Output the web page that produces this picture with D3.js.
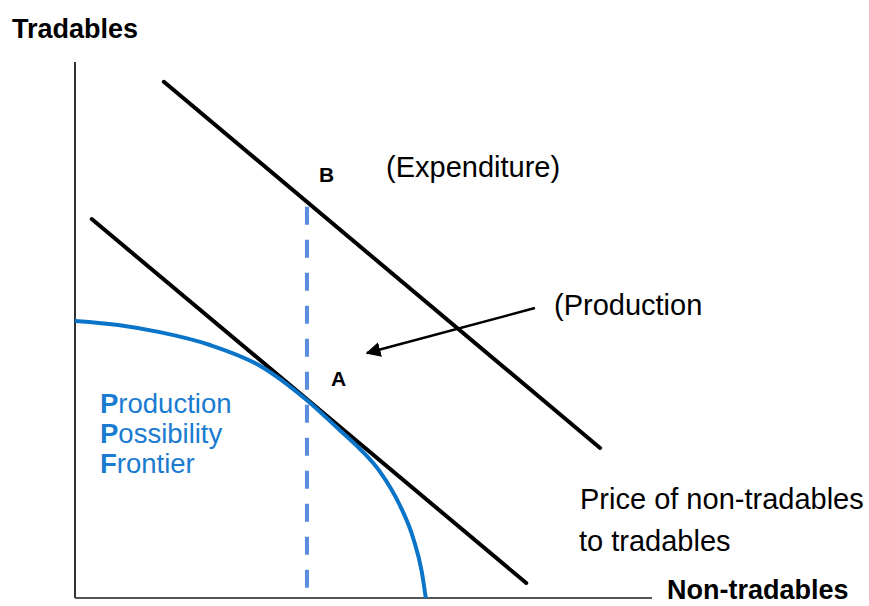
<!DOCTYPE html>
<html>
<head>
<meta charset="utf-8">
<script src="https://cdn.jsdelivr.net/npm/d3@7"></script>
<style>
  body { margin: 0; background: #fff; }
  text { font-family: "Liberation Sans", Arial, sans-serif; }
</style>
</head>
<body>
<div id="chart"></div>
<script>
// PPF points (units 0-100 on each axis)
var ppfX = [0, 7.8, 14.7, 23.4, 32.1, 40.2, 45.9, 49.4, 52.9, 56.3, 58.6, 60.1, 60.8];
var ppfY = [51.7, 50.9, 49.6, 47.2, 43.3, 36.9, 31.3, 27.8, 23.5, 17.3, 11.2, 4.9, 0];

// price lines: [x0, y0, x1, y1]
var expenditureLine = [15.4, 96.3, 91.0, 28.0];
var productionLine = [2.9, 70.7, 78.2, 2.8];
var dropX = 40.2, dropTop = 73.0;
var arrowFrom = [79.7, 54.1], arrowTo = [50.6, 45.7];

var width = 869,
  height = 606,
  margin = {left: 75, right: 217, top: 62, bottom: 8},
  svg = d3.select("#chart")
    .append("svg")
    .attr("width", width)
    .attr("height", height),
  x = d3.scaleLinear().domain([0, 100]).range([margin.left, width - margin.right]),
  y = d3.scaleLinear().domain([0, 100]).range([height - margin.bottom, margin.top]);

svg.append("defs").append("marker")
  .attr("id", "arr")
  .attr("viewBox", "0 0 10 10")
  .attr("refX", 9).attr("refY", 5)
  .attr("markerWidth", 6).attr("markerHeight", 6)
  .attr("orient", "auto")
  .append("path")
  .attr("d", "M0,0 L10,5 L0,10 z")
  .attr("fill", "#000");

// axes (no ticks in the picture)
svg.append("line")
  .attr("x1", x(0)).attr("y1", y(0))
  .attr("x2", x(0)).attr("y2", y(100))
  .attr("stroke", "#333").attr("stroke-width", 2);
svg.append("line")
  .attr("x1", x(0)).attr("y1", y(0))
  .attr("x2", x(100)).attr("y2", y(0))
  .attr("stroke", "#555").attr("stroke-width", 2);

// dashed drop line
svg.append("line")
  .attr("x1", x(dropX)).attr("y1", y(dropTop))
  .attr("x2", x(dropX)).attr("y2", y(0))
  .attr("stroke", "#5a8ddb")
  .attr("stroke-width", 4)
  .attr("stroke-dasharray", "18,15");

// the two price lines
[expenditureLine, productionLine].forEach(function (l) {
  svg.append("line")
    .attr("x1", x(l[0])).attr("y1", y(l[1]))
    .attr("x2", x(l[2])).attr("y2", y(l[3]))
    .attr("stroke", "#000")
    .attr("stroke-width", 4)
    .attr("stroke-linecap", "round");
});

// PPF curve
var ppf = d3.zip(ppfX, ppfY);
svg.append("path")
  .datum(ppf)
  .attr("fill", "none")
  .attr("stroke", "#0a74c8")
  .attr("stroke-width", 4)
  .attr("d", d3.line()
    .x(function (d) { return x(d[0]); })
    .y(function (d) { return y(d[1]); })
    .curve(d3.curveMonotoneX));

// arrow
svg.append("line")
  .attr("x1", x(arrowFrom[0])).attr("y1", y(arrowFrom[1]))
  .attr("x2", x(arrowTo[0])).attr("y2", y(arrowTo[1]))
  .attr("stroke", "#000")
  .attr("stroke-width", 2.5)
  .attr("marker-end", "url(#arr)");

// labels
function label(t, px, py, size, bold, fill) {
  return svg.append("text")
    .attr("x", px).attr("y", py)
    .attr("font-size", size + "px")
    .attr("font-weight", bold ? "bold" : "normal")
    .attr("fill", fill || "#000")
    .text(t);
}
label("Tradables", 12, 38, 27, true);
label("Non-tradables", 667, 599, 27, true);
label("B", 319, 182, 21, true);
label("A", 331, 386, 21, true);
label("(Expenditure)", 386, 177, 29, false);
label("(Production", 554, 315, 29, false);
label("Price of non-tradables", 580, 509, 29, false);
label("to tradables", 579, 551, 29, false);

var ppfLabel = [["P", "roduction"], ["P", "ossibility"], ["F", "rontier"]];
ppfLabel.forEach(function (w, i) {
  var t = svg.append("text")
    .attr("x", 100).attr("y", 413 + i * 30)
    .attr("font-size", "27.5px")
    .attr("fill", "#1a7bd0");
  t.append("tspan").attr("font-weight", "bold").text(w[0]);
  t.append("tspan").text(w[1]);
});
</script>
</body>
</html>
